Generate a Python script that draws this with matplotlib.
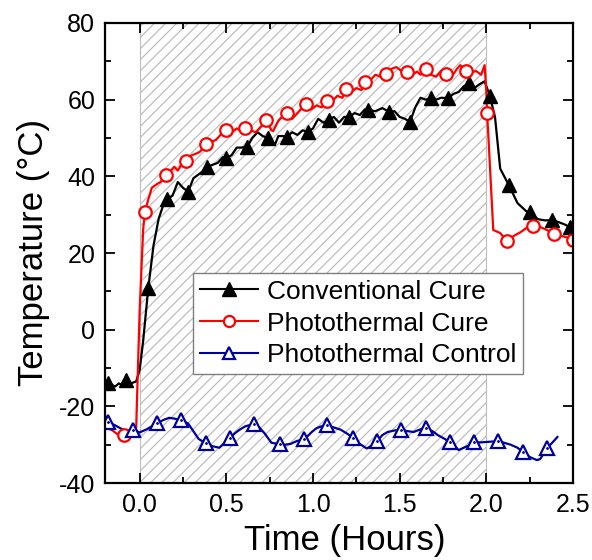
import matplotlib
matplotlib.use("Agg")
import matplotlib.pyplot as plt
from matplotlib.ticker import MultipleLocator

plt.rcParams['font.family'] = ['Liberation Sans', 'DejaVu Sans']
plt.rcParams['hatch.linewidth'] = 0.9

# ---------------- data ----------------
conv_t = [-0.20, -0.17, -0.14, -0.12, -0.10, -0.08, -0.05, -0.02, 0.00, 0.02, 0.05, 0.08, 0.11,
          0.14, 0.16, 0.19, 0.22, 0.25, 0.28, 0.31, 0.34, 0.37, 0.39, 0.42, 0.45, 0.48, 0.50,
          0.53, 0.56, 0.59, 0.62, 0.65, 0.68, 0.71, 0.74, 0.78, 0.80, 0.83, 0.85, 0.88, 0.91,
          0.94, 0.97, 1.00, 1.03, 1.06, 1.09, 1.12, 1.15, 1.18, 1.21, 1.24, 1.27, 1.30, 1.32,
          1.36, 1.40, 1.44, 1.47, 1.50, 1.53, 1.56, 1.59, 1.62, 1.65, 1.68, 1.71, 1.74, 1.78,
          1.81, 1.84, 1.87, 1.90, 1.93, 1.96, 1.99, 2.02, 2.05, 2.08, 2.13, 2.18, 2.24, 2.30,
          2.34, 2.38, 2.42, 2.46, 2.48, 2.50]
conv_T = [-14.2, -14.3, -14.8, -14.0, -14.6, -13.2, -14.0, -13.5, -10.5, -3.0, 11.0, 22.0, 29.0,
          33.0, 34.0, 35.0, 38.5, 37.0, 36.0, 39.5, 40.5, 41.5, 42.5, 43.0, 43.5, 45.0, 44.8,
          45.5, 47.5, 47.5, 47.7, 50.0, 51.5, 50.5, 50.0, 48.2, 50.5, 50.5, 50.3, 51.5, 50.8,
          52.0, 51.6, 52.5, 55.0, 54.0, 54.7, 55.5, 54.0, 55.5, 55.5, 56.5, 56.0, 57.5, 57.3,
          57.0, 57.8, 56.8, 57.0, 55.5, 55.0, 54.2, 58.0, 60.5, 60.0, 60.4, 60.0, 60.5, 60.4,
          61.5, 62.0, 63.5, 64.3, 63.0, 64.0, 64.8, 61.0, 55.5, 42.0, 37.7, 33.0, 30.5, 28.8,
          28.5, 28.6, 28.0, 27.3, 26.5, 27.0]
conv_mark_t = [-0.18, -0.08, 0.05, 0.16, 0.28, 0.39, 0.50, 0.62, 0.74, 0.85, 0.97, 1.09, 1.21,
               1.32, 1.44, 1.56, 1.68, 1.78, 1.90, 2.02, 2.13, 2.25, 2.38, 2.48]
conv_mark_T = [-14.0, -13.2, 11.0, 34.0, 36.0, 42.5, 44.8, 47.7, 50.0, 50.3, 51.6, 54.7, 55.5,
               57.3, 56.8, 54.2, 60.4, 60.4, 64.3, 61.0, 37.7, 30.6, 28.6, 26.8]

photo_t = [-0.20, -0.16, -0.13, -0.10, -0.09, -0.07, -0.04, -0.02, -0.01, 0.00, 0.02, 0.03, 0.05,
           0.07, 0.10, 0.12, 0.15, 0.18, 0.20, 0.22, 0.24, 0.27, 0.30, 0.33, 0.35, 0.38, 0.41,
           0.44, 0.47, 0.50, 0.53, 0.56, 0.58, 0.61, 0.64, 0.67, 0.70, 0.73, 0.76, 0.77, 0.80,
           0.82, 0.85, 0.88, 0.91, 0.93, 0.96, 0.99, 1.02, 1.05, 1.08, 1.11, 1.14, 1.17, 1.19,
           1.22, 1.25, 1.28, 1.30, 1.33, 1.36, 1.39, 1.42, 1.45, 1.48, 1.51, 1.54, 1.57, 1.60,
           1.62, 1.65, 1.68, 1.71, 1.74, 1.77, 1.80, 1.83, 1.85, 1.88, 1.91, 1.94, 1.97, 1.99,
           2.00, 2.004, 2.01, 2.04, 2.08, 2.12, 2.16, 2.20, 2.23, 2.27, 2.31, 2.35, 2.39, 2.43,
           2.47, 2.50]
photo_T = [-25.5, -26.2, -27.2, -27.8, -27.5, -27.5, -26.5, -25.5, -10.0, 5.0, 26.0, 30.7, 34.0,
           37.0, 38.0, 38.5, 40.3, 41.5, 42.5, 41.5, 43.0, 44.0, 45.5, 46.0, 46.5, 48.4, 49.0,
           49.5, 51.0, 52.2, 51.5, 52.5, 52.0, 52.6, 52.0, 51.5, 53.0, 54.7, 52.0, 51.8, 54.5,
           55.5, 56.5, 55.0, 56.5, 57.5, 58.8, 57.5, 58.5, 58.0, 59.6, 59.5, 61.0, 60.5, 62.8,
           62.0, 63.0, 62.5, 64.7, 65.0, 66.5, 66.0, 66.7, 68.0, 68.5, 67.5, 67.3, 66.5, 67.3,
           66.5, 67.9, 66.5, 66.0, 67.5, 66.7, 66.0, 68.0, 69.0, 67.5, 67.0, 67.5, 66.5, 69.0,
           62.0, 56.6, 52.0, 26.0, 25.2, 23.1, 24.5, 25.5, 26.5, 27.1, 26.8, 26.0, 24.9, 24.5,
           24.0, 23.4]
photo_mark_t = [-0.09, 0.03, 0.15, 0.27, 0.38, 0.50, 0.61, 0.73, 0.85, 0.96, 1.08, 1.19, 1.30,
                1.42, 1.54, 1.65, 1.77, 1.88, 2.004, 2.12, 2.27, 2.39, 2.50]
photo_mark_T = [-27.5, 30.7, 40.3, 44.0, 48.4, 52.2, 52.6, 54.7, 56.5, 58.8, 59.6, 62.8, 64.7,
                66.7, 67.3, 67.9, 66.7, 67.5, 56.6, 23.1, 27.1, 24.9, 23.4]

ctrl_t = [-0.20, -0.18, -0.14, -0.10, -0.07, -0.04, 0.00, 0.04, 0.07, 0.10, 0.14, 0.17, 0.20,
          0.24, 0.28, 0.31, 0.34, 0.38, 0.41, 0.43, 0.46, 0.49, 0.52, 0.55, 0.58, 0.61, 0.66,
          0.69, 0.72, 0.76, 0.81, 0.84, 0.87, 0.91, 0.95, 0.99, 1.02, 1.05, 1.08, 1.12, 1.16,
          1.20, 1.23, 1.27, 1.31, 1.34, 1.37, 1.40, 1.43, 1.47, 1.51, 1.55, 1.58, 1.62, 1.65,
          1.69, 1.72, 1.76, 1.79, 1.82, 1.84, 1.87, 1.90, 1.93, 1.97, 2.00, 2.03, 2.07, 2.11,
          2.14, 2.18, 2.21, 2.25, 2.29, 2.31, 2.35, 2.38, 2.41]
ctrl_T = [-24.0, -24.1, -25.0, -26.0, -26.5, -26.2, -26.8, -26.0, -25.2, -24.4, -23.5, -23.0,
          -23.2, -23.6, -24.5, -26.5, -28.5, -29.6, -30.3, -30.5, -30.8, -29.5, -28.3, -27.0,
          -26.0, -25.2, -24.6, -25.5, -27.0, -29.5, -29.9, -30.0, -29.8, -29.0, -28.6, -26.8,
          -25.7, -25.2, -24.9, -25.5, -26.1, -27.2, -28.3, -29.8, -31.0, -30.2, -29.1, -27.5,
          -26.7, -26.3, -26.2, -26.5, -26.7, -26.0, -25.7, -26.5, -27.5, -28.5, -29.4, -30.5,
          -31.4, -30.8, -30.2, -29.4, -29.4, -29.3, -29.2, -29.1, -29.6, -30.0, -30.8, -31.9,
          -33.2, -34.0, -33.8, -30.9, -29.5, -28.0]
ctrl_mark_t = [-0.18, -0.04, 0.10, 0.24, 0.38, 0.52, 0.66, 0.81, 0.95, 1.08, 1.23, 1.37, 1.51,
               1.65, 1.79, 1.93, 2.07, 2.21, 2.35]
ctrl_mark_T = [-24.1, -26.2, -24.4, -23.6, -29.6, -28.3, -24.6, -29.9, -28.6, -24.9, -28.3,
               -29.1, -26.2, -25.7, -29.4, -29.4, -29.1, -31.9, -30.9]

irradiation_window = [0.0, 2.0]

labels = ["Conventional Cure", "Photothermal Cure", "Photothermal Control"]
xticks = [0.0, 0.5, 1.0, 1.5, 2.0, 2.5]
yticks = [-40, -20, 0, 20, 40, 60, 80]

# ---------------- figure ----------------
fig = plt.figure(figsize=(5.92, 5.60), dpi=100)
ax = fig.add_axes([105 / 592, 1 - 483 / 560, 468 / 592, 460 / 560])

ax.axvspan(irradiation_window[0], irradiation_window[1], facecolor='white',
           edgecolor='#bdbdbd', hatch='///', linewidth=0.8, zorder=0)

black, red, blue = 'black', '#ff0000', '#00009c'

ax.plot(conv_t, conv_T, color=black, lw=1.6, zorder=3)
ax.plot(conv_mark_t, conv_mark_T, ls='none', marker='^', ms=10, color=black, zorder=4)

ax.plot(photo_t, photo_T, color=red, lw=1.6, zorder=3)
ax.plot(photo_mark_t, photo_mark_T, ls='none', marker='o', ms=9, mfc='white', mec=red,
        mew=1.6, zorder=4)

ax.plot(ctrl_t, ctrl_T, color=blue, lw=1.6, zorder=3)
ax.plot(ctrl_mark_t, ctrl_mark_T, ls='none', marker='^', ms=10, mfc='white', mec=blue,
        mew=1.6, zorder=4)
ax.plot(ctrl_mark_t, ctrl_mark_T, ls='none', marker='.', ms=2, color=blue, zorder=5)

# legend handles
h1, = ax.plot([], [], color=black, lw=1.5, marker='^', ms=10)
h2, = ax.plot([], [], color=red, lw=1.5, marker='o', ms=8, mfc='white', mec=red, mew=1.6)
h3, = ax.plot([], [], color=blue, lw=1.5, marker='^', ms=9, mfc='white', mec=blue, mew=1.6)
leg = ax.legend([h1, h2, h3], labels, loc='upper left',
                bbox_to_anchor=(193 / 592, 1 - 273 / 560), bbox_transform=fig.transFigure,
                fontsize=19, handlelength=2.2, handletextpad=0.35, borderaxespad=0,
                borderpad=0.25, labelspacing=0.3, fancybox=False, framealpha=1,
                edgecolor='#7f7f7f', numpoints=1)
leg.get_frame().set_linewidth(1.0)
leg.set_zorder(6)

ax.set_xlim(-0.2, 2.5)
ax.set_ylim(-40, 80)
ax.set_xticks(xticks)
ax.set_yticks(yticks)
ax.set_xticklabels([f"{v:.1f}" for v in xticks])
ax.set_yticklabels([str(v) for v in yticks])
ax.xaxis.set_minor_locator(MultipleLocator(0.25))
ax.yaxis.set_minor_locator(MultipleLocator(10))
ax.tick_params(which='both', direction='in', top=True, right=True, width=1.3)
ax.tick_params(which='major', length=7, labelsize=18, pad=7)
ax.tick_params(which='minor', length=4.5)
for s in ax.spines.values():
    s.set_linewidth(1.6)
    s.set_zorder(7)

ax.set_xlabel("Time (Hours)", fontsize=25)
ax.set_ylabel("Temperature (°C)", fontsize=25)
ax.xaxis.set_label_coords(0.512, -0.089)
ax.yaxis.set_label_coords(-0.117, 0.502)

fig.savefig("out.png", dpi=100)
